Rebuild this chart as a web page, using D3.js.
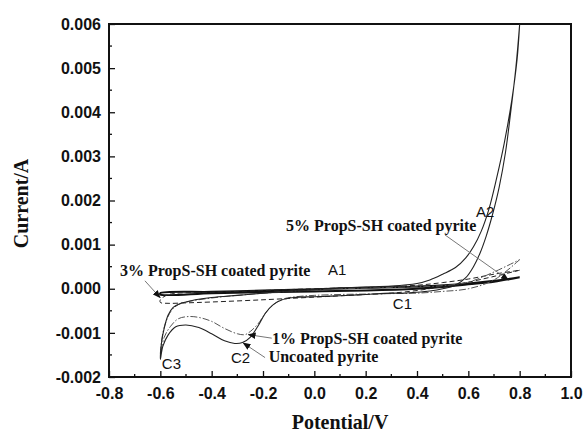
<!DOCTYPE html>
<html lang="en">
<head>
<meta charset="utf-8">
<title>Cyclic voltammetry of coated pyrite</title>
<script src="https://d3js.org/d3.v7.min.js"></script>
<style>
  body { margin: 0; background: #fff; }
</style>
</head>
<body>
<script>
// potential (V), current (A) pairs; each curve is a closed CV loop
var uncoated = [
  [0.800, 0.0060], [0.785, 0.0050], [0.765, 0.0040], [0.745, 0.0031], [0.720, 0.0023],
  [0.695, 0.0017], [0.670, 0.0012], [0.645, 0.0008], [0.620, 0.0005], [0.590, 0.00025],
  [0.550, 0.00008], [0.500, 0.0], [0.450, -0.00005], [0.400, -0.00008], [0.350, -0.0001],
  [0.300, -0.0001], [0.200, -0.00013], [0.100, -0.00016], [0.000, -0.00018], [-0.080, -0.0002],
  [-0.130, -0.00026], [-0.160, -0.00036], [-0.190, -0.00055], [-0.220, -0.00085], [-0.250, -0.0011],
  [-0.280, -0.00122], [-0.310, -0.00124], [-0.350, -0.00118], [-0.400, -0.00102], [-0.450, -0.00088],
  [-0.500, -0.00082], [-0.540, -0.00086], [-0.570, -0.00105], [-0.590, -0.0013], [-0.600, -0.0016],
  [-0.595, -0.0012], [-0.585, -0.0009], [-0.570, -0.0006], [-0.550, -0.00042], [-0.520, -0.00033],
  [-0.480, -0.00027], [-0.400, -0.0002], [-0.300, -0.00015], [-0.200, -0.0001], [-0.100, -0.00006],
  [0.000, -0.00002], [0.100, 0.00002], [0.200, 0.00004], [0.300, 0.00006], [0.400, 0.00012],
  [0.450, 0.0002], [0.500, 0.00033], [0.550, 0.00048], [0.590, 0.0007], [0.620, 0.00095],
  [0.650, 0.0013], [0.680, 0.0018], [0.710, 0.0025], [0.740, 0.0033], [0.770, 0.0043],
  [0.790, 0.0052], [0.800, 0.0060]
];
var coated1 = [
  [0.800, 0.00066], [0.700, 0.0002], [0.600, 0.0], [0.500, -0.00006], [0.400, -0.0001],
  [0.300, -0.00011], [0.200, -0.00012], [0.100, -0.00013], [0.000, -0.00015], [-0.070, -0.00018],
  [-0.120, -0.00023], [-0.160, -0.00036], [-0.190, -0.00055], [-0.220, -0.0008], [-0.250, -0.00097],
  [-0.270, -0.00104], [-0.300, -0.00102], [-0.350, -0.0009], [-0.400, -0.00074], [-0.450, -0.00065],
  [-0.490, -0.00063], [-0.530, -0.00068], [-0.560, -0.00085], [-0.585, -0.0011], [-0.600, -0.0015],
  [-0.590, -0.001], [-0.575, -0.0007], [-0.555, -0.00048], [-0.530, -0.00036], [-0.490, -0.00029],
  [-0.400, -0.00021], [-0.300, -0.00015], [-0.100, -0.00006], [0.100, 0.0], [0.300, 0.00003],
  [0.500, 0.00007], [0.600, 0.00015], [0.700, 0.00038], [0.800, 0.00066]
];
var coated3 = [
  [0.800, 0.00042], [0.700, 0.00028], [0.600, 0.00015], [0.500, 0.00005], [0.400, -0.00004],
  [0.300, -0.0001], [0.200, -0.00013], [0.100, -0.00016], [0.000, -0.00019], [-0.200, -0.00025],
  [-0.400, -0.0003], [-0.500, -0.00032], [-0.570, -0.00033], [-0.600, -0.00031],
  [-0.600, -0.00025], [-0.580, -0.00016], [-0.550, -0.00011], [-0.400, -0.00008], [-0.200, -0.00004],
  [0.000, 0.0], [0.200, 0.00003], [0.400, 0.00008], [0.500, 0.00014], [0.600, 0.00022],
  [0.700, 0.00033], [0.800, 0.00042]
];
var coated5 = [
  [0.800, 0.00026], [0.700, 0.00016], [0.600, 0.0001], [0.500, 0.00004], [0.400, 0.0],
  [0.200, -0.00004], [0.000, -0.00006], [-0.200, -0.00008], [-0.400, -0.0001], [-0.600, -0.00013],
  [-0.600, -0.0001], [-0.400, -0.00007], [-0.200, -0.00004], [0.000, -0.00001], [0.200, 0.00002],
  [0.400, 0.00005], [0.600, 0.00012], [0.700, 0.00018], [0.800, 0.00026]
];
var xTicks = [-0.8, -0.6, -0.4, -0.2, 0.0, 0.2, 0.4, 0.6, 0.8, 1.0];
var yTicks = [-0.002, -0.001, 0.000, 0.001, 0.002, 0.003, 0.004, 0.005, 0.006];

// labels: text, potential, current (left end of the baseline)
var notes = [
  ["5% PropS-SH coated pyrite", -0.110, 0.00131],
  ["3% PropS-SH coated pyrite", -0.757, 0.000295],
  ["1% PropS-SH coated pyrite", -0.165, -0.00125],
  ["Uncoated pyrite", -0.178, -0.00166]
];
// arrows: from [V, I] to [V, I]
var arrows = [
  [[0.509, 0.00122], [0.756, 0.0002]],
  [[-0.660, 0.00018], [-0.601, -0.0002]],
  [[-0.166, -0.00112], [-0.257, -0.00104]],
  [[-0.192, -0.00156], [-0.277, -0.00123]]
];
var peaks = [
  ["A1", 0.053, 0.00032],
  ["A2", 0.630, 0.00163],
  ["C1", 0.306, -0.00045],
  ["C2", -0.325, -0.00168],
  ["C3", -0.594, -0.00181]
];

var width = 585, height = 432;
var margin = {top: 24, right: 14, bottom: 55, left: 109};

var svg = d3.select("body").append("svg")
  .attr("width", width)
  .attr("height", height);

var x = d3.scaleLinear().domain([-0.8, 1.0]).range([margin.left, width - margin.right]);
var y = d3.scaleLinear().domain([-0.002, 0.006]).range([height - margin.bottom, margin.top]);

var L = x.range()[0], R = x.range()[1], B = y.range()[0], T = y.range()[1];

var defs = svg.append("defs");
defs.append("marker")
  .attr("id", "head")
  .attr("viewBox", "0 0 10 10")
  .attr("refX", 9).attr("refY", 5)
  .attr("markerWidth", 8).attr("markerHeight", 8)
  .attr("markerUnits", "userSpaceOnUse")
  .attr("orient", "auto")
  .append("path")
  .attr("d", "M0,1 L10,5 L0,9 Z")
  .attr("fill", "#111");

// hyphen instead of unicode minus, like the original
function fmt(p) {
  var f = d3.format("." + p + "f");
  return function(d) { return f(d).replace("\u2212", "-"); };
}

// axes with inward ticks; minor ticks halfway between majors
var xMinor = d3.range(-0.7, 1.0, 0.2);
var yMinor = d3.range(-0.0015, 0.006, 0.001);

var gx = svg.append("g")
  .attr("transform", "translate(0," + B + ")")
  .call(d3.axisBottom(x).tickValues(xTicks).tickFormat(fmt(1)).tickSize(-6).tickPadding(11));
gx.selectAll(".minor").data(xMinor).enter().append("line")
  .attr("class", "minor")
  .attr("x1", function(d) { return x(d); }).attr("x2", function(d) { return x(d); })
  .attr("y1", 0).attr("y2", -3);

var gy = svg.append("g")
  .attr("transform", "translate(" + L + ",0)")
  .call(d3.axisLeft(y).tickValues(yTicks).tickFormat(fmt(3)).tickSize(-6).tickPadding(8));
gy.selectAll(".minor").data(yMinor).enter().append("line")
  .attr("class", "minor")
  .attr("y1", function(d) { return y(d); }).attr("y2", function(d) { return y(d); })
  .attr("x1", 0).attr("x2", 3);

[gx, gy].forEach(function(g) {
  g.select(".domain").remove();
  g.attr("font-family", "Arial, 'Liberation Sans', sans-serif")
   .attr("font-size", 16)
   .attr("font-weight", "bold");
  g.selectAll("line").attr("stroke", "#111").attr("stroke-width", 1.3);
  g.selectAll("text").attr("fill", "#111");
});

// frame
svg.append("rect")
  .attr("x", L).attr("y", T)
  .attr("width", R - L).attr("height", B - T)
  .attr("fill", "none")
  .attr("stroke", "#111")
  .attr("stroke-width", 2);

// curves
var line = d3.line()
  .x(function(d) { return x(d[0]); })
  .y(function(d) { return y(d[1]); })
  .curve(d3.curveCatmullRom.alpha(0.5));

var series = [
  {data: coated5, stroke: "#111", width: 2, dash: null},
  {data: coated3, stroke: "#222", width: 1, dash: "5,3"},
  {data: coated1, stroke: "#555", width: 1, dash: "7,2,1.5,2"},
  {data: uncoated, stroke: "#222", width: 1.1, dash: null}
];
svg.append("g").selectAll("path").data(series).enter().append("path")
  .attr("d", function(d) { return line(d.data); })
  .attr("fill", "none")
  .attr("stroke", function(d) { return d.stroke; })
  .attr("stroke-width", function(d) { return d.width; })
  .attr("stroke-dasharray", function(d) { return d.dash; });

// annotation arrows and texts
svg.append("g").selectAll("line").data(arrows).enter().append("line")
  .attr("x1", function(d) { return x(d[0][0]); })
  .attr("y1", function(d) { return y(d[0][1]); })
  .attr("x2", function(d) { return x(d[1][0]); })
  .attr("y2", function(d) { return y(d[1][1]); })
  .attr("marker-end", "url(#head)")
  .attr("stroke", "#777")
  .attr("stroke-width", 1);

svg.append("g")
  .attr("font-family", "'Times New Roman', 'Liberation Serif', serif")
  .attr("font-weight", "bold")
  .attr("font-size", 16)
  .attr("fill", "#111")
  .selectAll("text").data(notes).enter().append("text")
  .attr("x", function(d) { return x(d[1]); })
  .attr("y", function(d) { return y(d[2]); })
  .text(function(d) { return d[0]; });

svg.append("g")
  .attr("font-family", "Arial, 'Liberation Sans', sans-serif")
  .attr("font-size", 15)
  .attr("fill", "#111")
  .selectAll("text").data(peaks).enter().append("text")
  .attr("x", function(d) { return x(d[1]); })
  .attr("y", function(d) { return y(d[2]); })
  .text(function(d) { return d[0]; });

// axis titles
var titles = svg.append("g")
  .attr("font-family", "'Times New Roman', 'Liberation Serif', serif")
  .attr("font-weight", "bold")
  .attr("font-size", 20)
  .attr("fill", "#111")
  .attr("text-anchor", "middle");

titles.append("text")
  .attr("x", (L + R) / 2)
  .attr("y", 429)
  .text("Potential/V");

titles.append("text")
  .attr("transform", "translate(28," + ((B + T) / 2 + 3) + ") rotate(-90)")
  .text("Current/A");
</script>
</body>
</html>
